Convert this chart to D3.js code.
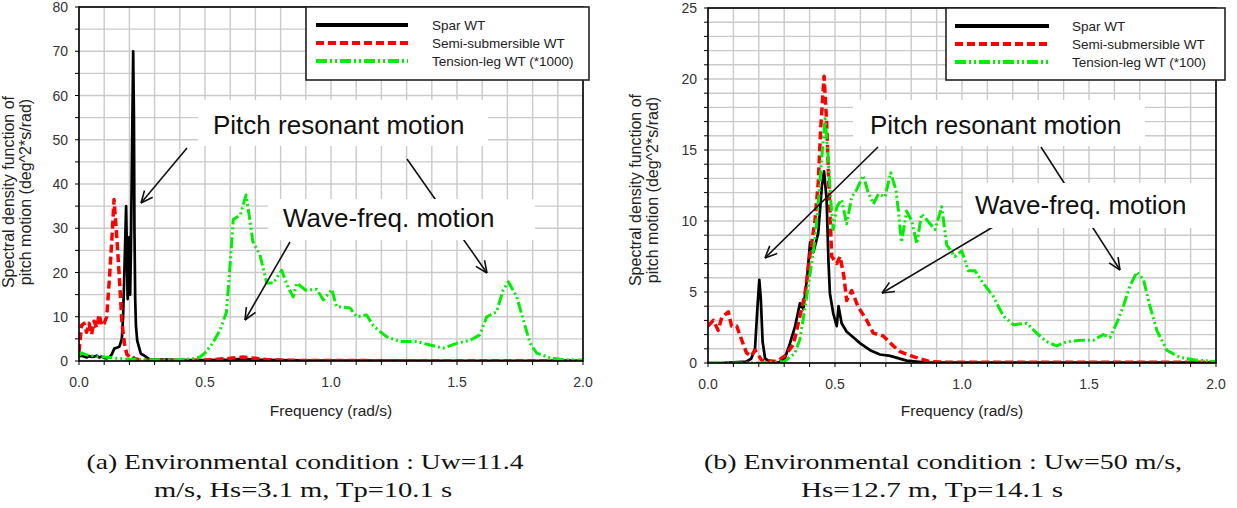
<!DOCTYPE html>
<html><head><meta charset="utf-8">
<script src="https://cdn.jsdelivr.net/npm/d3@7"></script>
<style>body{margin:0;background:#fff;} svg{display:block;}</style>
</head><body>
<svg id="c" width="1237" height="508"></svg>
<script>
// ---------------- DATA ----------------
const seriesNames = ["Spar WT", "Semi-submersible WT"];
const tlpNameA = "Tension-leg WT (*1000)";
const tlpNameB = "Tension-leg WT (*100)";
const xTicks = [0.0, 0.5, 1.0, 1.5, 2.0];
const yTicksA = [0, 10, 20, 30, 40, 50, 60, 70, 80];
const yTicksB = [0, 5, 10, 15, 20, 25];

// Panel (a): [frequency rad/s, spectral density]
const sparA = [[0,1.0],[0.01,1.2],[0.02,1.0],[0.03,0.8],[0.04,1.1],[0.05,0.9],[0.06,1.0],[0.07,1.2],[0.08,0.8],[0.09,1.0],[0.1,0.7],[0.11,0.6],[0.12,0.8],[0.13,1.5],[0.14,2.8],[0.15,3.0],[0.16,3.2],[0.17,5],[0.175,10],[0.18,20],[0.187,35],[0.19,25],[0.193,14],[0.196,20],[0.2,28],[0.203,15],[0.206,25],[0.21,45],[0.215,70],[0.218,55],[0.22,30],[0.223,14],[0.226,8],[0.231,4.6],[0.245,1.7],[0.265,1.0],[0.28,0.4],[0.3,0.3],[0.35,0.3],[0.4,0.2],[0.5,0.2],[0.6,0.3],[0.65,0.5],[0.7,0.3],[0.8,0.2],[0.9,0.1],[1.0,0.1],[1.2,0.1],[1.5,0.05],[1.8,0.05],[2.0,0.05]];
const semiA = [[0,2],[0.005,5],[0.01,8],[0.02,8.5],[0.03,6.5],[0.04,8.5],[0.05,6],[0.06,9],[0.07,7.5],[0.08,10.5],[0.09,8],[0.1,8.5],[0.11,10],[0.12,18],[0.13,27],[0.139,36.5],[0.15,28],[0.16,19],[0.17,9],[0.18,4],[0.19,1.5],[0.2,1],[0.21,1.2],[0.22,0.5],[0.25,0.2],[0.3,0.1],[0.4,0.1],[0.5,0.2],[0.55,0.4],[0.6,0.6],[0.65,0.9],[0.7,0.6],[0.75,0.3],[0.8,0.2],[0.9,0.1],[1.0,0.1],[1.5,0.05],[2.0,0.05]];
const tlpA = [[0,1.2],[0.01,1.8],[0.02,1.6],[0.03,1.4],[0.05,1.2],[0.07,1.0],[0.1,0.9],[0.12,0.8],[0.15,0.6],[0.2,0.4],[0.25,0.3],[0.3,0.3],[0.35,0.2],[0.4,0.3],[0.45,0.5],[0.48,0.9],[0.5,1.8],[0.53,4],[0.56,7],[0.585,11],[0.6,22],[0.612,32],[0.64,33],[0.663,37.5],[0.675,33],[0.69,27],[0.718,24],[0.745,17.6],[0.771,17.6],[0.804,20.5],[0.83,16.6],[0.85,14.5],[0.864,17.6],[0.9,16],[0.943,16.2],[0.97,13.8],[1.003,16.2],[1.022,12.3],[1.075,12],[1.102,10],[1.141,10.4],[1.17,7.8],[1.22,5.5],[1.274,4.4],[1.34,4.4],[1.393,3.6],[1.446,2.9],[1.499,4],[1.552,4.7],[1.59,5.9],[1.618,10],[1.657,11.1],[1.683,16],[1.704,17.9],[1.737,14.5],[1.763,9.3],[1.79,4],[1.816,1.8],[1.869,0.7],[1.92,0.3],[2.0,0.2]];

// Panel (b)
const sparB = [[0,0],[0.05,0],[0.1,0.05],[0.15,0.1],[0.17,0.3],[0.185,1],[0.195,4],[0.202,5.85],[0.208,4.5],[0.215,1.5],[0.225,0.3],[0.25,0.05],[0.28,0.05],[0.303,0.35],[0.323,1.4],[0.343,2.6],[0.362,4.2],[0.375,3.8],[0.39,6],[0.402,8.5],[0.415,7.8],[0.434,9.15],[0.448,12.4],[0.457,13.5],[0.467,11.5],[0.474,7.3],[0.48,4.9],[0.493,3.5],[0.507,2.6],[0.514,4],[0.526,2.8],[0.546,2.2],[0.566,1.9],[0.598,1.4],[0.638,0.9],[0.677,0.6],[0.717,0.5],[0.782,0.17],[0.85,0.05],[0.9,0.02],[1.0,0.02],[1.5,0.02],[2.0,0.02]];
const semiB = [[0,2.6],[0.021,3],[0.04,2.3],[0.054,3.2],[0.08,3.6],[0.093,2.6],[0.113,2.6],[0.133,1.6],[0.152,0.7],[0.17,0.5],[0.185,0.9],[0.2,0.5],[0.211,0.2],[0.27,0.1],[0.303,0.5],[0.336,1.3],[0.362,3.3],[0.382,4.9],[0.402,7.7],[0.421,10],[0.434,12.7],[0.444,16.6],[0.457,20.2],[0.467,17],[0.477,12],[0.487,7.5],[0.507,7],[0.52,7.5],[0.535,6.1],[0.546,4.4],[0.566,5.1],[0.59,4],[0.625,3],[0.651,2.1],[0.69,1.9],[0.73,1.2],[0.756,0.8],[0.808,0.45],[0.874,0.1],[0.95,0.05],[1.2,0.05],[1.5,0.05],[2.0,0.05]];
const tlpB = [[0,0],[0.1,0],[0.2,0],[0.3,0.1],[0.343,0.7],[0.362,1.7],[0.382,3.9],[0.402,6.3],[0.421,8.7],[0.434,11.2],[0.448,14.5],[0.461,17.2],[0.472,14.8],[0.483,11.5],[0.493,9.4],[0.507,11],[0.526,11.5],[0.546,9.8],[0.566,11.7],[0.585,12.2],[0.611,13.2],[0.631,12],[0.651,11.2],[0.671,11.9],[0.697,11.7],[0.719,13.4],[0.74,12.2],[0.749,10.8],[0.762,8.5],[0.782,10.7],[0.802,10],[0.822,8.4],[0.841,10.5],[0.86,10.1],[0.894,9.4],[0.92,11],[0.94,8.3],[0.972,7.5],[0.999,7.9],[1.025,6.5],[1.051,6.5],[1.084,5.6],[1.123,4.7],[1.163,3.3],[1.202,2.7],[1.255,2.8],[1.294,2.1],[1.333,1.5],[1.373,1.2],[1.412,1.5],[1.465,1.6],[1.517,1.6],[1.556,2.0],[1.583,1.8],[1.609,2.8],[1.635,4],[1.661,5.4],[1.688,6.4],[1.714,5.9],[1.74,4],[1.767,2.3],[1.806,0.9],[1.858,0.4],[1.924,0.2],[2.0,0.1]];

const xLabel = "Frequency (rad/s)";
const yLabel = ["Spectral density function of", "pitch motion (deg^2*s/rad)"];
const annoPitch = "Pitch resonant motion";
const annoWave = "Wave-freq. motion";
const captionA = ["(a) Environmental condition : Uw=11.4", "m/s, Hs=3.1 m, Tp=10.1 s"];
const captionB = ["(b) Environmental condition : Uw=50 m/s,", "Hs=12.7 m, Tp=14.1 s"];

// ---------------- DRAW ----------------
const svg = d3.select("#c");
const SANS = "Liberation Sans, Arial, sans-serif";
const styles = [
  {color:"#000000", width:2.7, dash:null},
  {color:"#ff0000", width:3.5, dash:"8,4"},
  {color:"#00ee00", width:3, dash:"11,3,2,3,2,3"}
];

function arrow(g, x1, y1, x2, y2) {
  const ang = Math.atan2(y2 - y1, x2 - x1);
  const L = 13, a = 0.42;
  g.append("line").attr("x1", x1).attr("y1", y1).attr("x2", x2).attr("y2", y2)
    .attr("stroke", "#111").attr("stroke-width", 1.6);
  [ -a, a ].forEach(s => {
    g.append("line").attr("x1", x2).attr("y1", y2)
      .attr("x2", x2 - L * Math.cos(ang + s)).attr("y2", y2 - L * Math.sin(ang + s))
      .attr("stroke", "#111").attr("stroke-width", 1.6);
  });
}

function panel(cfg) {
  const g = svg.append("g");
  const x = d3.scaleLinear().domain([0, 2]).range([cfg.x0, cfg.x1]);
  const y = d3.scaleLinear().domain([0, cfg.yMax]).range([cfg.y1, cfg.y0]);
  // grid
  const vg = d3.range(0, 2.0001, 0.1);
  g.selectAll(null).data(vg).enter().append("line")
    .attr("x1", d => x(d)).attr("x2", d => x(d)).attr("y1", cfg.y0).attr("y2", cfg.y1)
    .attr("stroke", "#cacaca").attr("stroke-width", 1.4);
  const hg = d3.range(0, cfg.yMax + 0.0001, cfg.gridStep);
  g.selectAll(null).data(hg).enter().append("line")
    .attr("y1", d => y(d)).attr("y2", d => y(d)).attr("x1", cfg.x0).attr("x2", cfg.x1)
    .attr("stroke", "#cacaca").attr("stroke-width", 1.4);
  // minor ticks
  g.selectAll(null).data(hg).enter().append("line")
    .attr("y1", d => y(d)).attr("y2", d => y(d)).attr("x1", cfg.x0 - 4).attr("x2", cfg.x0)
    .attr("stroke", "#000").attr("stroke-width", 1);
  g.selectAll(null).data(vg).enter().append("line")
    .attr("x1", d => x(d)).attr("x2", d => x(d)).attr("y1", cfg.y1).attr("y2", cfg.y1 + 4)
    .attr("stroke", "#000").attr("stroke-width", 1);
  // series
  const clipId = "clip" + cfg.id;
  svg.append("clipPath").attr("id", clipId).append("rect")
    .attr("x", cfg.x0).attr("y", cfg.y0 - 2).attr("width", cfg.x1 - cfg.x0).attr("height", cfg.y1 - cfg.y0 + 2);
  const line = d3.line().x(d => x(d[0])).y(d => y(d[1]));
  cfg.series.forEach((s, i) => {
    const st = styles[i];
    g.append("path").datum(s).attr("d", line).attr("fill", "none")
      .attr("clip-path", `url(#${clipId})`)
      .attr("stroke", st.color).attr("stroke-width", st.width)
      .attr("stroke-dasharray", st.dash).attr("stroke-linejoin", "round");
  });
  // frame
  g.append("rect").attr("x", cfg.x0).attr("y", cfg.y0).attr("width", cfg.x1 - cfg.x0)
    .attr("height", cfg.y1 - cfg.y0).attr("fill", "none").attr("stroke", "#000").attr("stroke-width", 1.6);
  // tick labels
  g.selectAll(null).data(cfg.yTicks).enter().append("text")
    .attr("x", cfg.x0 - 11).attr("y", d => y(d) + 5).attr("text-anchor", "end")
    .attr("font-family", SANS).attr("font-size", 14).attr("fill", "#333").text(d => d);
  g.selectAll(null).data(xTicks).enter().append("text")
    .attr("x", d => x(d)).attr("y", cfg.y1 + 26).attr("text-anchor", "middle")
    .attr("font-family", SANS).attr("font-size", 14).attr("fill", "#333").text(d => d.toFixed(1));
  // axis titles
  g.append("text").attr("x", (cfg.x0 + cfg.x1) / 2).attr("y", 416).attr("text-anchor", "middle")
    .attr("font-family", SANS).attr("font-size", 15.5).attr("fill", "#222").text(xLabel);
  yLabel.forEach((t, i) => {
    g.append("text").attr("transform", `translate(${cfg.ytx + i * 17},${cfg.yty}) rotate(-90)`)
      .attr("text-anchor", "middle").attr("font-family", SANS).attr("font-size", 16)
      .attr("fill", "#222").text(t);
  });
  // arrows
  cfg.arrows.forEach(a => arrow(g, a[0], a[1], a[2], a[3]));
  // annotation boxes
  cfg.boxes.forEach(b => {
    g.append("rect").attr("x", b.x).attr("y", b.y).attr("width", b.w).attr("height", b.h).attr("fill", "#fff");
    g.append("text").attr("x", b.tx).attr("y", b.ty).attr("font-family", SANS).attr("font-size", 26)
      .attr("fill", "#111").text(b.text);
  });
  // legend
  const L = cfg.legend;
  g.append("rect").attr("x", L.x).attr("y", L.y).attr("width", L.w).attr("height", L.h)
    .attr("fill", "#fff").attr("stroke", "#222").attr("stroke-width", 1.6);
  cfg.names.forEach((n, i) => {
    const st = styles[i];
    const yy = L.y + 18 + i * 18;
    g.append("line").attr("x1", L.lx1).attr("x2", L.lx2).attr("y1", yy).attr("y2", yy)
      .attr("stroke", st.color).attr("stroke-width", 4).attr("stroke-dasharray", st.dash);
    g.append("text").attr("x", L.tx).attr("y", yy + 5).attr("font-family", SANS)
      .attr("font-size", 13.5).attr("fill", "#222").text(n);
  });
  // caption
  cfg.caption.forEach((t, i) => {
    svg.append("text").attr("x", cfg.capX[i]).attr("y", 469 + i * 28).attr("text-anchor", "middle")
      .attr("font-family", "Liberation Serif, Times New Roman, serif").attr("font-size", 21)
      .attr("fill", "#111").attr("textLength", cfg.capW[i]).attr("lengthAdjust", "spacingAndGlyphs").text(t);
  });
}

panel({
  id: "a", x0: 79, x1: 583, y0: 7, y1: 361, yMax: 80, gridStep: 5, yTicks: yTicksA,
  series: [sparA, semiA, tlpA], names: [seriesNames[0], seriesNames[1], tlpNameA],
  ytx: 14, yty: 192,
  arrows: [[187,148,141,203],[407,159,487,273],[290,242,245,320]],
  boxes: [{x:198,y:100,w:290,h:46,tx:213,ty:134,text:annoPitch},
          {x:268,y:199,w:267,h:41,tx:283,ty:227,text:annoWave}],
  legend: {x:306,y:7,w:283,h:73,lx1:316,lx2:408,tx:432},
  caption: captionA, capX:[305,303], capW:[437,298]
});
panel({
  id: "b", x0: 708, x1: 1216, y0: 8, y1: 363, yMax: 25, gridStep: 1, yTicks: yTicksB,
  series: [sparB, semiB, tlpB], names: [seriesNames[0], seriesNames[1], tlpNameB],
  ytx: 641, yty: 190,
  arrows: [[878,147,765,258],[1041,147,1120,270],[993,227,882,293]],
  boxes: [{x:853,y:100,w:292,h:46,tx:870,ty:134,text:annoPitch},
          {x:963,y:183,w:252,h:45,tx:975,ty:214,text:annoWave}],
  legend: {x:946,y:8,w:279,h:72,lx1:955,lx2:1049,tx:1072},
  caption: captionB, capX:[943,932], capW:[478,262]
});
</script>
</body></html>
